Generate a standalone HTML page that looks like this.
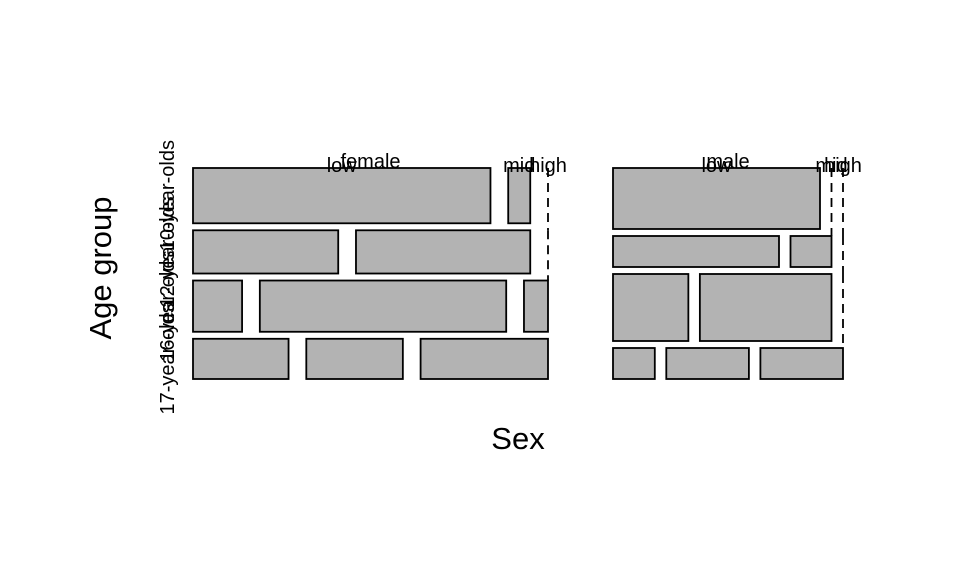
<!DOCTYPE html>
<html><head><meta charset="utf-8"><style>
body{margin:0;background:#fff}
svg{display:block;font-family:"Liberation Sans",sans-serif}
</style></head><body>
<svg id="chart" width="960" height="576">
<text x="518" y="449" font-size="31" text-anchor="middle">Sex</text>
<text transform="translate(111,268) rotate(-90)" font-size="31" text-anchor="middle">Age group</text>
</svg>
<script>
const sexes = ["female", "male"];
const sexWeights = [355, 230];
const ages = ["10-year-olds", "12-year-olds", "16-year-olds", "17-year-olds"];
const levels = ["low", "mid", "high"];
const femaleAgeCounts = [55, 43, 51, 40];
const maleAgeCounts = [61, 31, 67, 31];
const femaleLevelCounts = [[297, 22, 0], [145, 174, 0], [49, 246, 24], [96, 97, 128]];
const maleLevelCounts = [[207, 0, 0], [166, 41, 0], [75, 131, 0], [42, 83, 83]];

const svg = document.getElementById('chart');
const NS = 'http://www.w3.org/2000/svg';
const X0 = 193, X1 = 843, Y0 = 168, Y1 = 379, SEXGAP = 65, VGAP = 7;
const ageCounts = [femaleAgeCounts, maleAgeCounts];
const levelCounts = [femaleLevelCounts, maleLevelCounts];
function mk(tag, attrs) { const e = document.createElementNS(NS, tag); for (const k in attrs) e.setAttribute(k, attrs[k]); svg.appendChild(e); return e; }
const totalW = X1 - X0 - SEXGAP * (sexes.length - 1);
const sexSum = sexWeights.reduce((a, b) => a + b, 0);
let sx = X0;
sexes.forEach((s, si) => {
  const sw = totalW * sexWeights[si] / sexSum;
  const hgap = sw * 0.05;
  const ac = ageCounts[si];
  const aSum = ac.reduce((a, b) => a + b, 0);
  const availH = Y1 - Y0 - VGAP * (ages.length - 1);
  let y = Y0;
  const lab = mk('text', { x: sx + sw / 2, y: 168, 'font-size': 20, 'text-anchor': 'middle' });
  lab.textContent = s;
  
  
  ages.forEach((a, ai) => {
    const h = availH * ac[ai] / aSum;
    const lc = levelCounts[si][ai];
    const lSum = lc.reduce((p, q) => p + q, 0);
    const availW = sw - hgap * (levels.length - 1);
    let x = sx;
    lc.forEach((c, li) => {
      const w = availW * c / lSum;
      if (c > 0) {
        const r = mk('rect', { x: x, y: y, width: w, height: h, fill: '#b3b3b3', stroke: '#000', 'stroke-width': 1.8 });
        
        
      } else {
        const l = mk('line', { x1: x, x2: x, y1: y, y2: y + h + (ai < ages.length - 1 ? VGAP : 0), stroke: '#000', 'stroke-width': 1.8, 'stroke-dasharray': '9,6' });
        
        
      }
      if (ai === 0) {
        const t = mk('text', { x: x + w / 2, y: 172, 'font-size': 20, 'text-anchor': 'middle' });
        t.textContent = levels[li];
        
        
      }
      x += w + hgap;
    });
    if (si === 0) {
      const t = mk('text', { transform: 'translate(174,' + (y + h / 2) + ') rotate(-90)', 'font-size': 20, 'text-anchor': 'middle' });
      t.textContent = a;
      
      
    }
    y += h + VGAP;
  });
  sx += sw + SEXGAP;
});
</script>
</body></html>
